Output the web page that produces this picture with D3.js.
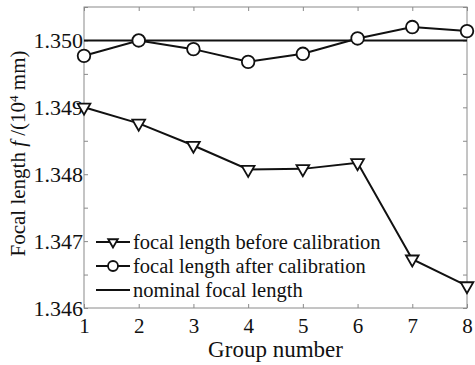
<!DOCTYPE html>
<head>
<meta charset="utf-8">
<script src="https://d3js.org/d3.v7.min.js"></script>
</head>
<style>
body { margin: 0; background: #fff; }
text { font-family: "Liberation Serif", "Times New Roman", Times, "DejaVu Serif"; fill: #111; }
.frame { fill: none; stroke: #8a8a8a; stroke-width: 1px; }
.tick line { stroke: #8a8a8a; }
.line { fill: none; stroke: #111; stroke-width: 2px; }
.marker { fill: #fff; stroke: #111; stroke-width: 1.8px; }
</style>
<body>
<script>
var groups = [1, 2, 3, 4, 5, 6, 7, 8];
var before = [1.34900, 1.34876, 1.34843, 1.34807, 1.34808, 1.34817, 1.34673, 1.34633];
var after = [1.34977, 1.35000, 1.34987, 1.34968, 1.34980, 1.35003, 1.35020, 1.35014];
var nominal = 1.350;
var yTicks = [1.346, 1.347, 1.348, 1.349, 1.350];
var yMinor = [1.3465, 1.3475, 1.3485, 1.3495, 1.3505];
var legendLabels = ["focal length before calibration", "focal length after calibration", "nominal focal length"];

var margin = {top: 7, right: 8, bottom: 57, left: 84},
    width = 475 - margin.left - margin.right,
    height = 365 - margin.top - margin.bottom;

var x = d3.scaleLinear().domain([1, 8]).range([0, width]);
var y = d3.scaleLinear().domain([1.346, 1.3505]).range([height, 0]);

var svg = d3.select("body").append("svg")
    .attr("width", 475)
    .attr("height", 365)
  .append("g")
    .attr("transform", "translate(" + margin.left + "," + margin.top + ")");

// inner ticks on all four sides
function innerTicks(axis, tr) {
  var g = svg.append("g").attr("transform", tr).call(axis);
  g.select(".domain").remove();
  g.selectAll("text").remove();
  return g;
}
var yAll = yTicks.concat(yMinor);
innerTicks(d3.axisRight(y).tickValues(yAll).tickSize(4), "translate(0,0)");
innerTicks(d3.axisLeft(y).tickValues(yAll).tickSize(4), "translate(" + width + ",0)");
innerTicks(d3.axisTop(x).tickValues(groups).tickSize(4), "translate(0," + height + ")");
innerTicks(d3.axisBottom(x).tickValues(groups).tickSize(4), "translate(0,0)");

svg.append("rect").attr("class", "frame")
    .attr("width", width).attr("height", height);

// tick labels
svg.append("g")
    .call(d3.axisLeft(y).tickValues(yTicks).tickSize(0).tickPadding(1).tickFormat(d3.format(".3f")))
    .call(function(g) { g.select(".domain").remove(); g.attr("font-family", null); })
    .selectAll("text").style("font-size", "22px");
svg.append("g")
    .attr("transform", "translate(0," + height + ")")
    .call(d3.axisBottom(x).tickValues(groups).tickSize(0).tickPadding(10).tickFormat(d3.format("d")))
    .call(function(g) { g.select(".domain").remove(); g.attr("font-family", null); })
    .selectAll("text").style("font-size", "21px");

// axis titles
svg.append("text")
    .attr("x", width / 2).attr("y", height + 49)
    .attr("text-anchor", "middle").style("font-size", "23px")
    .text("Group number");
var yl = svg.append("text")
    .attr("transform", "translate(" + (-59) + "," + (height / 2 - 4) + ") rotate(-90)")
    .attr("text-anchor", "middle").style("font-size", "21px");
yl.append("tspan").text("Focal length ");
yl.append("tspan").attr("font-style", "italic").text("f");
yl.append("tspan").text(" /(10");
yl.append("tspan").attr("dy", -7).style("font-size", "13px").text("4");
yl.append("tspan").attr("dy", 7).text(" mm)");

// nominal line
svg.append("line").attr("class", "line")
    .attr("x1", x(1)).attr("x2", x(8))
    .attr("y1", y(nominal)).attr("y2", y(nominal));

var line = d3.line().x(function(d, i) { return x(groups[i]); }).y(function(d) { return y(d); });

svg.append("path").datum(before).attr("class", "line").attr("d", line);
svg.append("path").datum(after).attr("class", "line").attr("d", line);

var tri = d3.symbol().type(d3.symbolTriangle).size(70);
svg.selectAll(".tri").data(before).enter().append("path")
    .attr("class", "marker")
    .attr("d", tri)
    .attr("transform", function(d, i) { return "translate(" + x(groups[i]) + "," + y(d) + ") rotate(180)"; });
svg.selectAll(".circ").data(after).enter().append("circle")
    .attr("class", "marker")
    .attr("r", 6.3)
    .attr("cx", function(d, i) { return x(groups[i]); })
    .attr("cy", function(d) { return y(d); });

// legend
var lg = svg.append("g").attr("transform", "translate(12,235)");
legendLabels.forEach(function(t, i) {
  var row = lg.append("g").attr("transform", "translate(0," + (i * 24) + ")");
  row.append("line").attr("class", "line").attr("x1", 0).attr("x2", 34);
  if (i === 0) row.append("path").attr("class", "marker").attr("d", d3.symbol().type(d3.symbolTriangle).size(40)).attr("transform", "translate(17,0) rotate(180)");
  if (i === 1) row.append("circle").attr("class", "marker").attr("r", 5).attr("cx", 17);
  row.append("text").attr("x", 37).attr("dy", "0.32em").style("font-size", "20.5px").text(t);
});
</script>
</body>
